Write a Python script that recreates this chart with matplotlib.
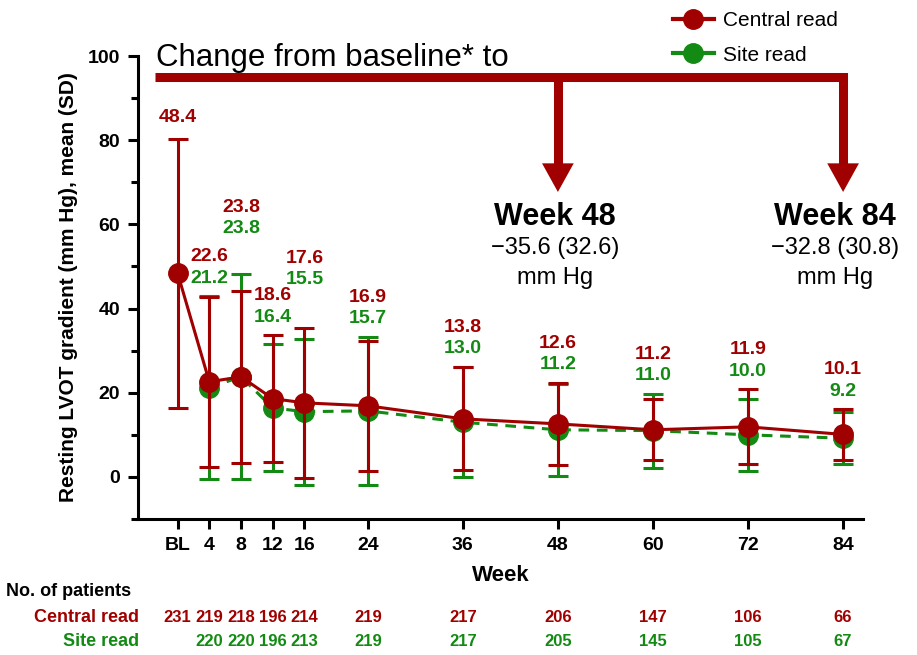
import matplotlib
matplotlib.use('Agg')
import matplotlib.pyplot as plt
from matplotlib import font_manager
from matplotlib.lines import Line2D
from matplotlib.transforms import blended_transform_factory

# データ
weeks_central = [0, 4, 8, 12, 16, 24, 36, 48, 60, 72, 84]
mean_central = [48.4, 22.6, 23.8, 18.6, 17.6, 16.9, 13.8, 12.6, 11.2, 11.9, 10.1]
sd_central = [32.0, 20.2, 20.4, 15.0, 17.9, 15.5, 12.2, 9.8, 7.2, 8.9, 6.0]
n_central = [231, 219, 218, 196, 214, 219, 217, 206, 147, 106, 66]

weeks_site = [4, 8, 12, 16, 24, 36, 48, 60, 72, 84]
mean_site = [21.2, 23.8, 16.4, 15.5, 15.7, 13.0, 11.2, 11.0, 10.0, 9.2]
sd_site = [21.7, 24.4, 15.1, 17.3, 17.6, 13.1, 10.9, 8.8, 8.5, 6.2]
n_site = [220, 220, 196, 213, 219, 217, 205, 145, 105, 67]

tick_weeks = [0, 4, 8, 12, 16, 24, 36, 48, 60, 72, 84]
tick_labels = ['BL', '4', '8', '12', '16', '24', '36', '48', '60', '72', '84']

callout_weeks = [48, 84]
callout_change = ['\u221235.6 (32.6)', '\u221232.8 (30.8)']

RED = '#A00000'
GREEN = '#138A13'

names = {f.name for f in font_manager.fontManager.ttflist}
NARROW = 'Liberation Sans Narrow' if 'Liberation Sans Narrow' in names else 'Liberation Sans'
plt.rcParams['font.family'] = ['Liberation Sans', 'DejaVu Sans']

fig = plt.figure(figsize=(9.17, 6.55), dpi=100)
ax = fig.add_axes([0.1505, 0.2076, 0.7905, 0.7069])

# サイト読影 (下に描く)
ax.errorbar(weeks_site, mean_site, yerr=sd_site, color=GREEN, lw=2.2, ls=(0, (3.5, 2.5)),
            marker='o', ms=14, capsize=7, capthick=2.2, elinewidth=2.2, zorder=2)
# 中央読影
ax.errorbar(weeks_central, mean_central, yerr=sd_central, color=RED, lw=2.2,
            marker='o', ms=14, capsize=7, capthick=2.2, elinewidth=2.2, zorder=3)

# 数値ラベル
site_top = dict(zip(weeks_site, [m + s for m, s in zip(mean_site, sd_site)]))
site_mean = dict(zip(weeks_site, mean_site))
lift = {8: 6.5, 16: 7.0}
for w, m, s in zip(weeks_central, mean_central, sd_central):
    top = max(m + s, site_top.get(w, 0))
    base = top + 4.3 + lift.get(w, 0)
    if w in site_mean:
        ax.text(w, base, f'{site_mean[w]:.1f}', color=GREEN, fontsize=14,
                fontweight='bold', ha='center', va='center', zorder=4)
        ax.text(w, base + 5.1, f'{m:.1f}', color=RED, fontsize=14,
                fontweight='bold', ha='center', va='center', zorder=4)
    else:
        ax.text(w, top + 4.9, f'{m:.1f}', color=RED, fontsize=14,
                fontweight='bold', ha='center', va='center', zorder=4)

# 上部の矢印
ax.plot([-2.9, callout_weeks[-1], callout_weeks[-1]], [95, 95, 74], color=RED, lw=6.5,
        solid_joinstyle='miter', solid_capstyle='butt', clip_on=False, zorder=5)
for w in callout_weeks[:-1]:
    ax.plot([w, w], [95, 74], color=RED, lw=6.5, solid_capstyle='butt', clip_on=False, zorder=5)
for w in callout_weeks:
    ax.fill([w - 2.0, w + 2.0, w], [74.5, 74.5, 67.7], color=RED, lw=0, clip_on=False, zorder=5)

ax.text(-2.7, 99.5, 'Change from baseline* to', fontsize=22.5, ha='left', va='center', zorder=5)
for w, txt, dx in zip(callout_weeks, callout_change, [-0.4, -1.0]):
    ax.text(w + dx, 61.8, f'Week {w}', fontsize=22, fontweight='bold', ha='center', va='center')
    ax.text(w + dx, 54.4, txt, fontsize=17, ha='center', va='center')
    ax.text(w + dx, 47.3, 'mm Hg', fontsize=17, ha='center', va='center')

# 軸
ax.set_xlim(-5, 86.5)
ax.set_ylim(-10, 100)
ax.set_xticks(tick_weeks)
ax.set_xticklabels(tick_labels)
ax.set_yticks([0, 20, 40, 60, 80, 100])
ax.set_yticks([-10, 10, 30, 50, 70, 90], minor=True)
for lab in ax.get_xticklabels() + ax.get_yticklabels():
    lab.set_family(NARROW)
    lab.set_fontweight('bold')
    lab.set_fontsize(14)
ax.spines['top'].set_visible(False)
ax.spines['right'].set_visible(False)
for sp in ['left', 'bottom']:
    ax.spines[sp].set_linewidth(2.2)
ax.tick_params(axis='both', which='major', length=7, width=2.2, pad=6)
ax.tick_params(axis='y', which='minor', length=5, width=2.2)
ax.set_xlabel('Week', fontsize=16, fontweight='bold', labelpad=8)
ax.set_ylabel('Resting LVOT gradient (mm Hg), mean (SD)', fontsize=15, fontweight='bold', labelpad=7)

# 凡例
handles = [Line2D([], [], color=RED, lw=3, marker='o', ms=14),
           Line2D([], [], color=GREEN, lw=3, marker='o', ms=14)]
fig.legend(handles, ['Central read', 'Site read'], loc='upper left', bbox_to_anchor=(0.713, 1.012),
           frameon=False, fontsize=15, handlelength=2.0, handletextpad=0.4, labelspacing=0.75)

# 患者数の表
tr = blended_transform_factory(ax.transData, fig.transFigure)
fig.text(0.006, 1 - 592 / 655, 'No. of patients', family=NARROW, fontweight='bold', fontsize=13,
         ha='left', va='center')
fig.text(0.152, 1 - 617 / 655, 'Central read', family=NARROW, fontweight='bold', fontsize=13,
         color=RED, ha='right', va='center')
fig.text(0.152, 1 - 642 / 655, 'Site read', family=NARROW, fontweight='bold', fontsize=13,
         color=GREEN, ha='right', va='center')
for w, n in zip(weeks_central, n_central):
    fig.text(w, 1 - 617 / 655, str(n), transform=tr, family=NARROW, fontweight='bold',
             fontsize=12, color=RED, ha='center', va='center')
for w, n in zip(weeks_site, n_site):
    fig.text(w, 1 - 642 / 655, str(n), transform=tr, family=NARROW, fontweight='bold',
             fontsize=12, color=GREEN, ha='center', va='center')

fig.savefig('out.png', dpi=100)
